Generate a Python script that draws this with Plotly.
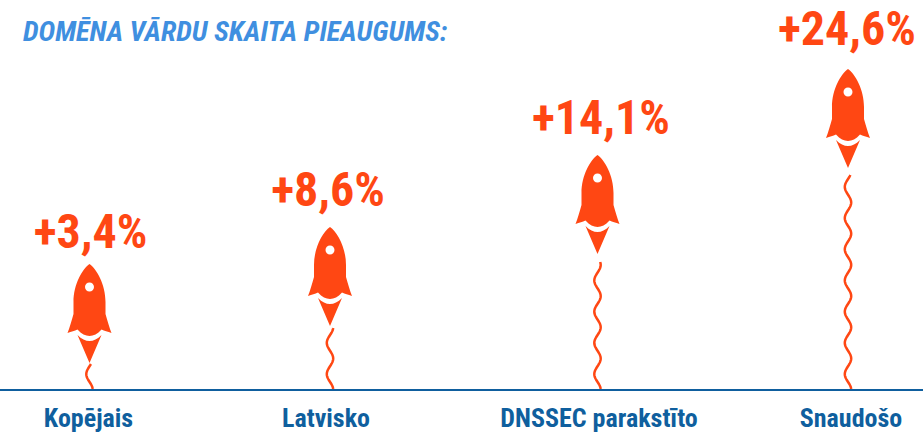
import math
import plotly.graph_objects as go

categories = ["Kopējais", "Latvisko", "DNSSEC parakstīto", "Snaudošo"]
growth_labels = ["+3,4%", "+8,6%", "+14,1%", "+24,6%"]
# heights above the baseline (px-like units of the y axis)
rocket_lift = [26, 63, 135, 221]
trail_height = [25, 61, 127, 214]
label_height = [129, 171, 243, 332]
# horizontal slots along the baseline
rocket_x = [89.5, 330, 597.5, 848]
label_x = [90.5, 328, 601, 847]
tick_x = [88.5, 326, 599, 851]

ORANGE = "#FF4713"
BLUE = "#0F5F9E"
TITLE = "#3F8FE0"
NARROW = "Roboto, sans-serif"
ROCKET_H = 99

def up(d):
    return ROCKET_H - d

def rocket_path():
    def P(x, d):
        return f"{x} {up(d)}"
    s = f"M {P(0,0)} "
    s += f"C {P(7,5)} {P(16,20)} {P(16,38)} L {P(16,50)} C {P(18,57)} {P(20,64)} {P(22,69)} "
    s += f"C {P(18,67.5)} {P(15,67)} {P(12,65.5)} C {P(8,70)} {P(4,72)} {P(0,72)} "
    s += f"C {P(-4,72)} {P(-8,70)} {P(-12,65.5)} C {P(-15,67)} {P(-18,67.5)} {P(-22,69)} "
    s += f"C {P(-20,64)} {P(-18,57)} {P(-16,50)} L {P(-16,38)} C {P(-16,20)} {P(-7,5)} {P(0,0)} Z "
    s += f"M {P(-12,71)} C {P(-8,75)} {P(-4,77)} {P(0,77)} C {P(4,77)} {P(8,75)} {P(12,71)} L {P(0,99)} Z "
    r, k, c = 4.5, 2.5, 23
    s += (f"M {P(-r,c)} C {P(-r,c-k)} {P(-k,c-r)} {P(0,c-r)} C {P(k,c-r)} {P(r,c-k)} {P(r,c)} "
          f"C {P(r,c+k)} {P(k,c+r)} {P(0,c+r)} C {P(-k,c+r)} {P(-r,c+k)} {P(-r,c)} Z")
    return s

def trail_path(height):
    pts = []
    h = 0.0
    while h <= height:
        x = -3.2 * math.sin(math.pi * (h + 8.5) / 15.6 - math.pi)
        pts.append(f"{x:.2f} {h:.1f}")
        h += 1
    return "M " + " L ".join(pts)

fig = go.Figure()
fig.add_trace(go.Scatter(
    x=label_x, y=label_height, mode="text", text=growth_labels,
    textposition="top center",
    textfont=dict(family=NARROW, size=48, color=ORANGE, weight="bold"),
    hoverinfo="skip", showlegend=False, cliponaxis=False,
))

shapes = []
for xc, lift, th in zip(rocket_x, rocket_lift, trail_height):
    shapes.append(dict(type="path", xref="x", yref="y", xsizemode="pixel", ysizemode="pixel",
                       xanchor=xc, yanchor=0, path=trail_path(th),
                       line=dict(color=ORANGE, width=2.5), fillcolor="rgba(0,0,0,0)"))
    shapes.append(dict(type="path", xref="x", yref="y", xsizemode="pixel", ysizemode="pixel",
                       xanchor=xc, yanchor=lift, path=rocket_path(),
                       line=dict(width=0), fillcolor=ORANGE))

fig.update_layout(
    width=923, height=432, margin=dict(l=0, r=0, t=0, b=43, pad=0),
    paper_bgcolor="white", plot_bgcolor="white", showlegend=False,
    shapes=shapes,
    title=dict(text="<b><i>DOMĒNA VĀRDU SKAITA PIEAUGUMS:</i></b>",
               x=23 / 923, xanchor="left", y=1 - 31 / 432, yanchor="middle", automargin=False,
               font=dict(family=NARROW, size=28.4, color=TITLE)),
    xaxis=dict(range=[0, 923], tickmode="array", tickvals=tick_x, ticktext=categories,
               showgrid=False, zeroline=False, showline=True, linecolor=BLUE, linewidth=2,
               ticks="outside", ticklen=5, tickcolor="rgba(0,0,0,0)", automargin=False,
               tickfont=dict(family=NARROW, size=26, color=BLUE, weight="bold")),
    yaxis=dict(range=[0, 389], visible=False, automargin=False),
)
post = """
document.body.style.margin = '0';
var st = document.createElement('style');
st.textContent = 'svg text { font-stretch: 75%; }';
document.head.appendChild(st);
"""
fig.write_html("out.html", config=dict(displayModeBar=False), post_script=post)
